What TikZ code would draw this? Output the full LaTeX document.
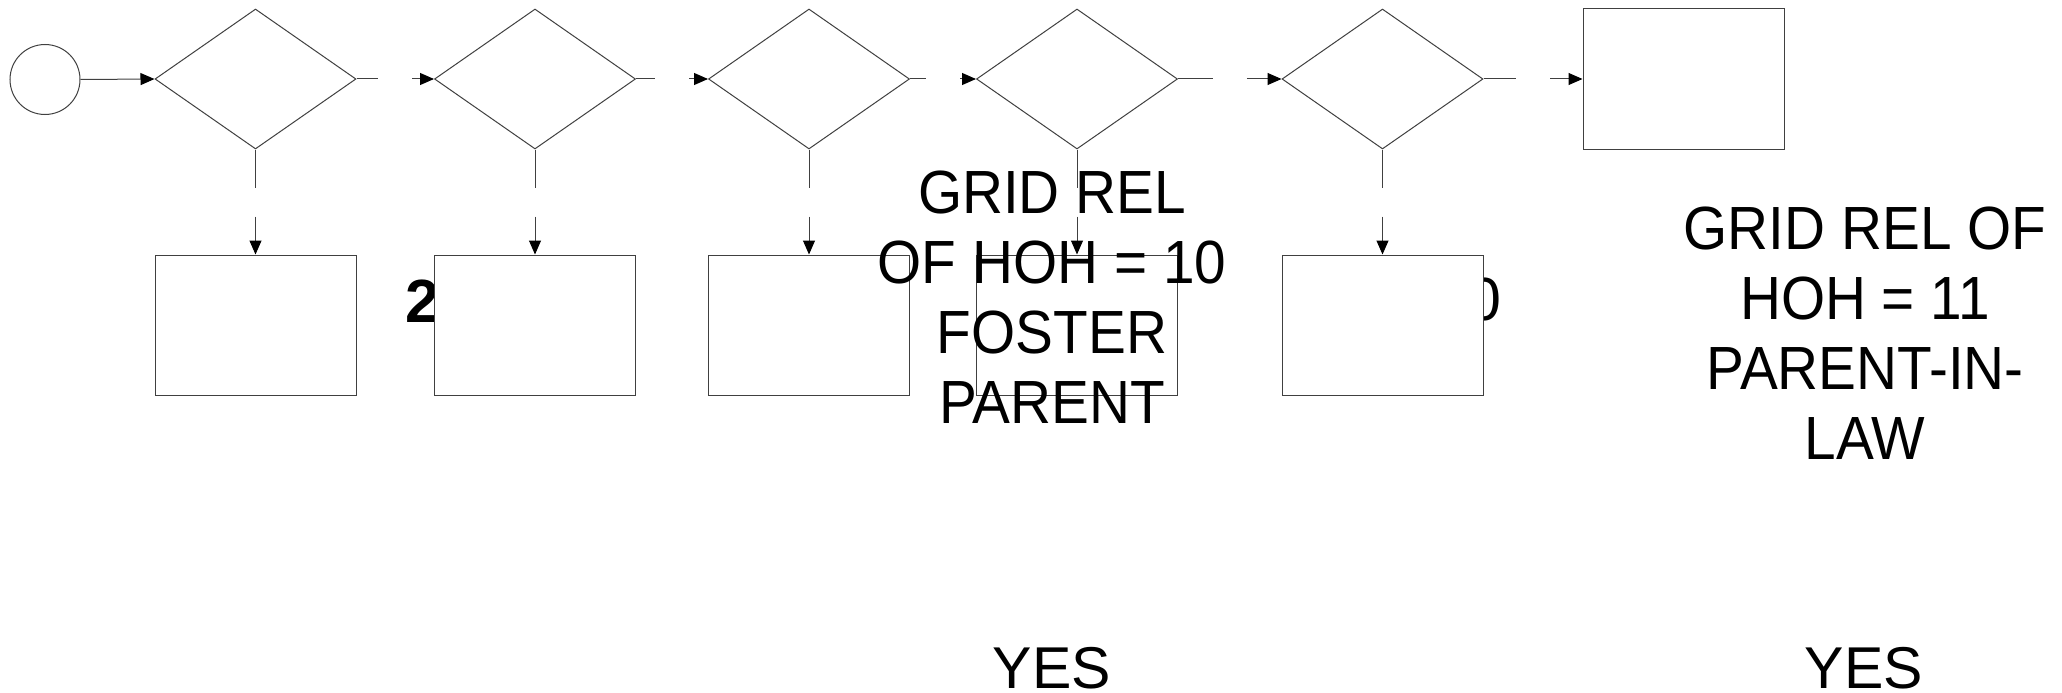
\documentclass[tikz,border=0pt]{standalone}
\usepackage{fontspec}
\setmainfont{Liberation Sans}
\newfontfamily\condfont[FakeStretch=0.93]{Liberation Sans}
\usetikzlibrary{shapes.geometric,arrows.meta,calc}
\begin{document}
\begin{tikzpicture}[x=1pt,y=-1pt,
  conn/.style={line width=1pt, draw=black!75},
  arr/.style={conn, -{Triangle[length=14pt,width=12pt,color=black]}},
  dec/.style={shape=diamond, draw=black!75, fill=white, line width=1pt, minimum width=201pt, minimum height=140pt, inner sep=0pt},
  proc/.style={rectangle, draw=black!75, fill=white, line width=1pt, minimum width=201pt, minimum height=140pt, inner sep=0pt},
  term/.style={circle, draw=black!75, fill=white, line width=1pt, minimum size=70pt, inner sep=0pt},
  big/.style={font=\condfont\fontsize{61}{70}\selectfont, align=center, inner sep=0pt, anchor=north},
  yes/.style={font=\fontsize{59}{70}\selectfont, anchor=base, inner sep=0pt},
]
\useasboundingbox (0,0) rectangle (2062,693);
% partly hidden labels (drawn first, covered by boxes)
\node[font=\bfseries\fontsize{61}{70}\selectfont, anchor=base west, inner sep=0pt] (two) at (405,322) {2};
\node[font=\fontsize{61}{70}\selectfont, anchor=base east, inner sep=0pt] (zero) at (1502,320) {0};
% shapes
\node[term] (start) at (45,79.5) {};
\node[dec] (d1) at (255.5,79) {};
\node[dec] (d2) at (535,79) {};
\node[dec] (d3) at (809,79) {};
\node[dec] (d4) at (1077,79) {};
\node[dec] (d5) at (1382.5,79) {};
\node[proc] (t) at (1683.5,79) {};
\node[proc] (b1) at (255.5,325) {};
\node[proc] (b2) at (535,325) {};
\node[proc] (b3) at (809,325) {};
\node[proc] (b4) at (1077,325) {};
\node[proc] (b5) at (1382.5,325) {};
% connectors
\draw[arr] (start.east) -- (d1.west);
\foreach \a/\b in {d1/d2,d2/d3,d3/d4,d4/d5,d5/t} {
  \coordinate (\a-ga) at ($(\a.east)!0.5!(\b.west)+(-17,0)$);
  \coordinate (\a-gb) at ($(\a.east)!0.5!(\b.west)+(17,0)$);
  \draw[conn] (\a.east) -- (\a-ga);
  \draw[arr] (\a-gb) -- (\b.west);
}
\foreach \a/\b in {d1/b1,d2/b2,d3/b3,d4/b4,d5/b5} {
  \coordinate (\a-va) at ($(\a.south)!0.5!(\b.north)+(0,-14.5)$);
  \coordinate (\a-vb) at ($(\a.south)!0.5!(\b.north)+(0,14.5)$);
  \draw[conn] (\a.south) -- (\a-va);
  \draw[arr] (\a-vb) -- (\b.north);
}
% texts
\node[big] (txt1) at (1052,171) {GRID REL\\OF HOH = 10\\FOSTER\\PARENT};
\node[big] (txt2) at (1865,207) {GRID REL OF\\HOH = 11\\PARENT-IN-\\LAW};
\node[yes] (yes1) at (1052,688) {YES};
\node[yes] (yes2) at (1864,688) {YES};
\end{tikzpicture}
\end{document}
